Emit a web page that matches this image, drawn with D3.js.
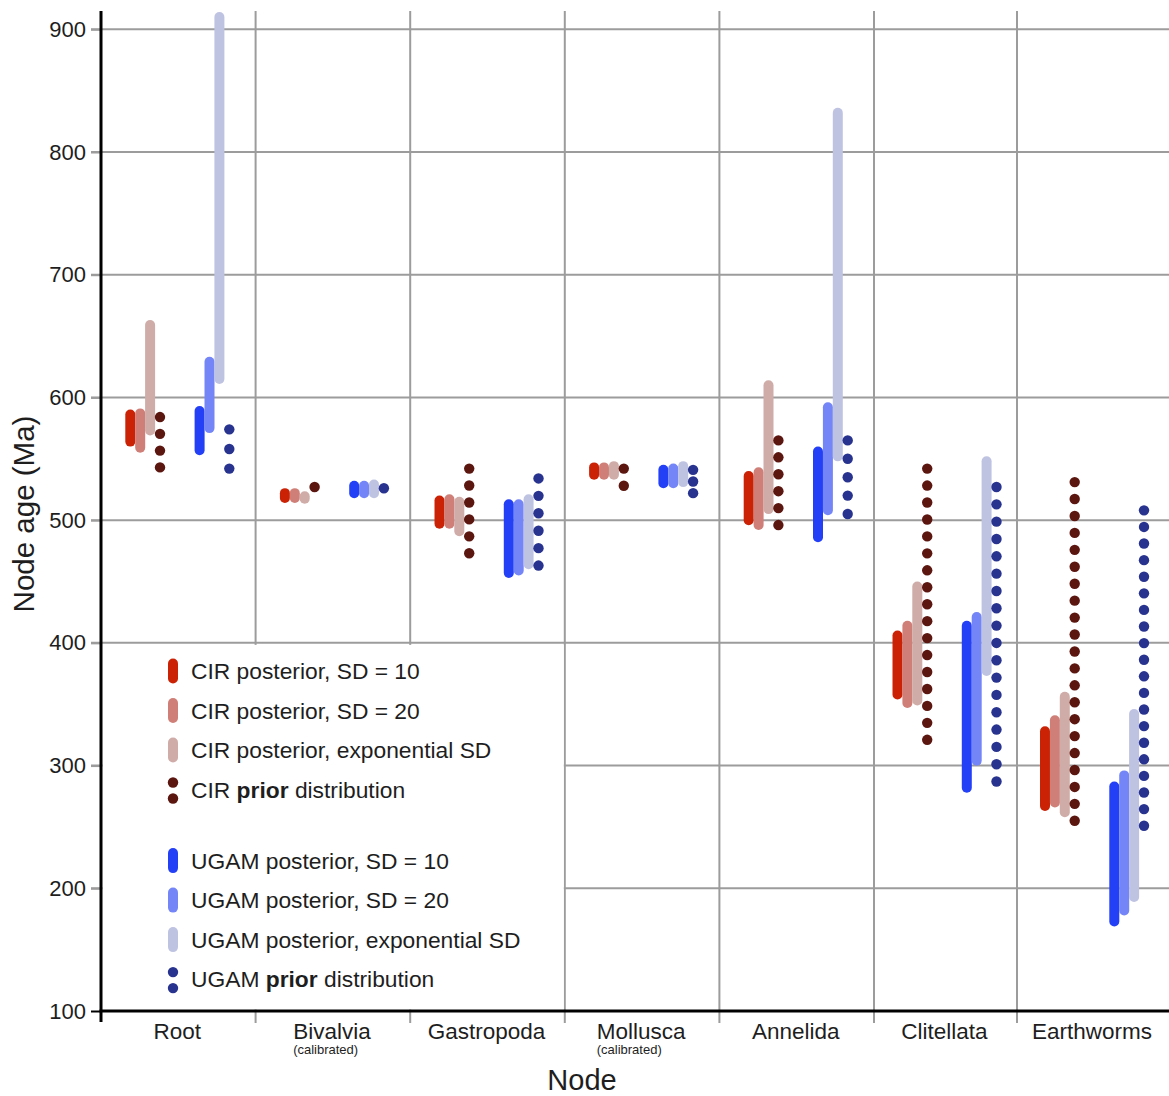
<!DOCTYPE html>
<html>
<head>
<meta charset="utf-8">
<script src="https://cdn.jsdelivr.net/npm/d3@7"></script>
<style>
  body { margin: 0; background: #fff; }
  svg { display: block; }
  text { font-family: "Liberation Sans", Arial, Helvetica, sans-serif; fill: #1e1e1e; }
</style>
</head>
<body>
<svg id="chart" width="1169" height="1096"></svg>
<script>
// ---------------- data ----------------
const categories = ["Root", "Bivalvia", "Gastropoda", "Mollusca", "Annelida", "Clitellata", "Earthworms"];
const subLabels  = ["", "(calibrated)", "", "(calibrated)", "", "", ""];
const yTicks = [100, 200, 300, 400, 500, 600, 700, 800, 900];

// posterior intervals [low, high] in Ma, one per category
const cirSD10  = [[564, 586], [518, 522], [497, 516], [537, 543], [500, 536], [358, 406], [267, 328]];
const cirSD20  = [[559, 587], [518, 522], [497, 517], [537, 543], [496, 539], [351, 414], [270, 337]];
const cirExp   = [[573, 659], [517.5, 519.5], [491, 515], [537, 544], [509, 610], [353, 446], [262, 356]];
const ugamSD10 = [[557, 589], [522, 528], [457, 513], [530, 541], [486, 556], [282, 414], [173, 283]];
const ugamSD20 = [[575, 629], [522, 528], [459, 513], [530, 542], [508, 592], [304, 421], [182, 292]];
const ugamExp  = [[615, 910], [522, 529], [464, 517], [531, 544], [552, 832], [377, 548], [193, 342]];

// prior distributions [low, high, number of dots]
const cirPrior  = [[543, 584, 4], [527, 527, 1], [473, 542, 6], [528, 542, 2], [496, 565, 6], [321, 542, 17], [255, 531, 21]];
const ugamPrior = [[542, 574, 3], [526, 526, 1], [463, 534, 6], [522, 541, 3], [505, 565, 5], [287, 527, 18], [251, 508, 20]];

const legendLabels = [
  ["CIR posterior, SD = 10"], ["CIR posterior, SD = 20"], ["CIR posterior, exponential SD"], ["CIR ", "prior", " distribution"],
  ["UGAM posterior, SD = 10"], ["UGAM posterior, SD = 20"], ["UGAM posterior, exponential SD"], ["UGAM ", "prior", " distribution"]
];

// ---------------- styling ----------------
const colors = {
  cirSD10: "#cb2206", cirSD20: "#cf7f77", cirExp: "#cfaca8", cirPrior: "#5b1610",
  ugamSD10: "#2440f6", ugamSD20: "#7486f7", ugamExp: "#bfc3e2", ugamPrior: "#28338f"
};

const series = [
  { key: "cirSD10",  data: cirSD10,  slot: 0, type: "bar" },
  { key: "cirSD20",  data: cirSD20,  slot: 1, type: "bar" },
  { key: "cirExp",   data: cirExp,   slot: 2, type: "bar" },
  { key: "cirPrior", data: cirPrior, slot: 3, type: "dots" },
  { key: "ugamSD10", data: ugamSD10, slot: 7, type: "bar" },
  { key: "ugamSD20", data: ugamSD20, slot: 8, type: "bar" },
  { key: "ugamExp",  data: ugamExp,  slot: 9, type: "bar" },
  { key: "ugamPrior",data: ugamPrior,slot: 10, type: "dots" }
];

const svg = d3.select("#chart");
const gridColor = "#9c9c9c";

// ---------------- scales ----------------
const y = d3.scaleLinear().domain([100, 900]).range([1011, 29.3]);
const xEdge = d3.scaleLinear().domain([0, 5, 6, 7]).range([101, 874, 1017, 1169]);
const xCenter = i => xEdge(i + 0.5);
const slotX = d3.scaleLinear().domain([0, 10]).range([-48, 51]);

const axisLeft = 101, axisBottom = y(100), axisTop = y(915);

// ---------------- grid ----------------
const grid = svg.append("g");
grid.selectAll("line.h").data(yTicks.filter(t => t > 100)).join("line")
  .attr("x1", axisLeft - 10).attr("x2", 1169)
  .attr("y1", d => y(d)).attr("y2", d => y(d))
  .attr("stroke", gridColor).attr("stroke-width", 2);

grid.selectAll("line.v").data(d3.range(1, 7)).join("line")
  .attr("x1", d => xEdge(d)).attr("x2", d => xEdge(d))
  .attr("y1", axisTop).attr("y2", axisBottom + 12)
  .attr("stroke", gridColor).attr("stroke-width", 2);

// legend background hides the grid there
svg.append("rect")
  .attr("x", axisLeft + 1.5).attr("y", y(400) + 2)
  .attr("width", xEdge(3) - axisLeft - 2.5).attr("height", axisBottom - y(400) - 3.5)
  .attr("fill", "#fff");

// ---------------- axes ----------------
const yAxis = d3.axisLeft(y).tickValues(yTicks).tickSize(10).tickPadding(5);
const gy = svg.append("g").attr("transform", `translate(${axisLeft},0)`).call(yAxis);
gy.select(".domain").remove();
gy.selectAll(".tick line").attr("stroke", d => d === 100 ? "#000" : gridColor).attr("stroke-width", 2);
gy.selectAll(".tick text").attr("font-size", 22).attr("fill", "#1e1e1e")
  .attr("font-family", '"Liberation Sans", Arial, sans-serif');

svg.append("line").attr("x1", axisLeft).attr("x2", axisLeft)
  .attr("y1", axisTop).attr("y2", axisBottom + 11)
  .attr("stroke", "#000").attr("stroke-width", 3);
svg.append("line").attr("x1", axisLeft - 1.5).attr("x2", 1169)
  .attr("y1", axisBottom).attr("y2", axisBottom)
  .attr("stroke", "#000").attr("stroke-width", 3);

// category labels
const gx = svg.append("g");
const catText = gx.selectAll("text.cat").data(categories).join("text")
  .attr("class", "cat")
  .attr("x", (d, i) => xCenter(i) - 1).attr("y", axisBottom + 28)
  .attr("text-anchor", "middle").attr("font-size", 22.5).text(d => d);
const catLeft = catText.nodes().map(n => n.getBBox().x);
gx.selectAll("text.sub").data(subLabels).join("text")
  .attr("class", "sub")
  .attr("x", (d, i) => catLeft[i]).attr("y", axisBottom + 43)
  .attr("text-anchor", "start").attr("font-size", 13).text(d => d);

// axis titles
svg.append("text").attr("x", 582).attr("y", 1090).attr("text-anchor", "middle")
  .attr("font-size", 29).text("Node");
svg.append("text").attr("transform", `translate(34,${y(505)}) rotate(-90)`)
  .attr("text-anchor", "middle").attr("font-size", 29.5).text("Node age (Ma)");

// ---------------- marks ----------------
const marks = svg.append("g");
series.forEach(s => {
  const g = marks.append("g").attr("class", s.key);
  if (s.type === "bar") {
    g.selectAll("line").data(s.data).join("line")
      .attr("x1", (d, i) => xCenter(i) + slotX(s.slot))
      .attr("x2", (d, i) => xCenter(i) + slotX(s.slot))
      .attr("y1", d => y(d[1])).attr("y2", d => y(d[0]))
      .attr("stroke", colors[s.key]).attr("stroke-width", 10)
      .attr("stroke-linecap", "round");
  } else {
    const pts = [];
    s.data.forEach((d, i) => {
      const [lo, hi, n] = d;
      for (let k = 0; k < n; k++) {
        const v = n === 1 ? hi : hi - k * (hi - lo) / (n - 1);
        pts.push({ i, v });
      }
    });
    g.selectAll("circle").data(pts).join("circle")
      .attr("cx", d => xCenter(d.i) + slotX(s.slot))
      .attr("cy", d => y(d.v))
      .attr("r", 5.2)
      .attr("fill", colors[s.key]);
  }
});

// ---------------- legend ----------------
const legRow = d3.scaleLinear().domain([0, 1]).range([671, 710.5]);
const legPos = [0, 1, 2, 3, 4.8, 5.8, 6.8, 7.8];
const legend = svg.append("g");
series.forEach((s, k) => {
  const cy = legRow(legPos[k]);
  const g = legend.append("g");
  if (s.type === "bar") {
    g.append("line").attr("x1", 173).attr("x2", 173)
      .attr("y1", cy - 7.5).attr("y2", cy + 7.5)
      .attr("stroke", colors[s.key]).attr("stroke-width", 10).attr("stroke-linecap", "round");
  } else {
    [-8, 8].forEach(o => g.append("circle").attr("cx", 173).attr("cy", cy + o + 1)
      .attr("r", 5.2).attr("fill", colors[s.key]));
  }
  const t = g.append("text").attr("x", 191).attr("y", cy + 8).attr("font-size", 22.8);
  legendLabels[k].forEach((part, j) => {
    t.append("tspan").attr("font-weight", j === 1 ? "bold" : "normal").text(part);
  });
});
</script>
</body>
</html>
